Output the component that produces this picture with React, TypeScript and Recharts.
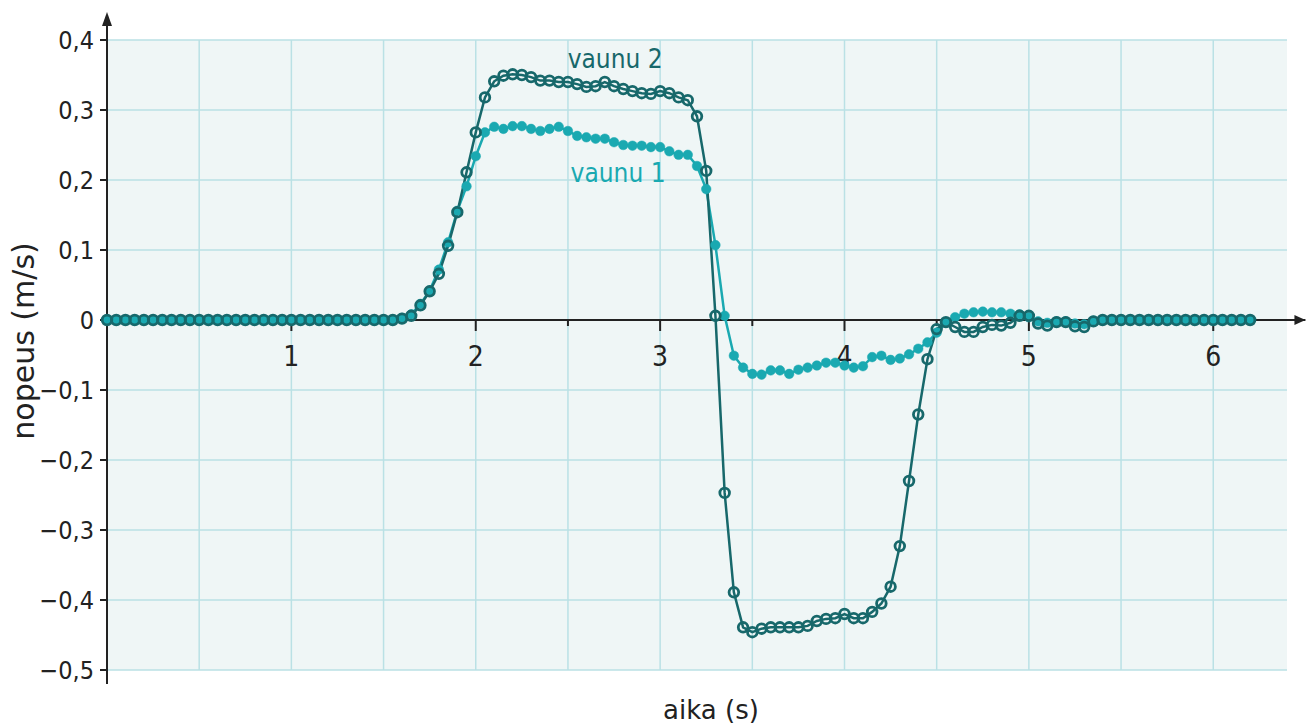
import React from 'react';
import {
  LineChart,
  Line,
  XAxis,
  YAxis,
  CartesianGrid,
  ReferenceLine,
  ReferenceDot,
} from 'recharts';

// time (s)
const times: number[] = [
  0, 0.05, 0.1, 0.15, 0.2, 0.25, 0.3, 0.35, 0.4, 0.45,
  0.5, 0.55, 0.6, 0.65, 0.7, 0.75, 0.8, 0.85, 0.9, 0.95,
  1, 1.05, 1.1, 1.15, 1.2, 1.25, 1.3, 1.35, 1.4, 1.45,
  1.5, 1.55, 1.6, 1.65, 1.7, 1.75, 1.8, 1.85, 1.9, 1.95,
  2, 2.05, 2.1, 2.15, 2.2, 2.25, 2.3, 2.35, 2.4, 2.45,
  2.5, 2.55, 2.6, 2.65, 2.7, 2.75, 2.8, 2.85, 2.9, 2.95,
  3, 3.05, 3.1, 3.15, 3.2, 3.25, 3.3, 3.35, 3.4, 3.45,
  3.5, 3.55, 3.6, 3.65, 3.7, 3.75, 3.8, 3.85, 3.9, 3.95,
  4, 4.05, 4.1, 4.15, 4.2, 4.25, 4.3, 4.35, 4.4, 4.45,
  4.5, 4.55, 4.6, 4.65, 4.7, 4.75, 4.8, 4.85, 4.9, 4.95,
  5, 5.05, 5.1, 5.15, 5.2, 5.25, 5.3, 5.35, 5.4, 5.45,
  5.5, 5.55, 5.6, 5.65, 5.7, 5.75, 5.8, 5.85, 5.9, 5.95,
  6, 6.05, 6.1, 6.15, 6.2,
];

// vaunu 1 speed (m/s)
const vaunu1: number[] = [
  0, 0, 0, 0, 0, 0, 0, 0, 0, 0,
  0, 0, 0, 0, 0, 0, 0, 0, 0, 0,
  0, 0, 0, 0, 0, 0, 0, 0, 0, 0,
  0, 0, 0.003, 0.008, 0.023, 0.042, 0.072, 0.111, 0.156, 0.191,
  0.234, 0.268, 0.276, 0.273, 0.277, 0.277, 0.273, 0.27, 0.273, 0.276,
  0.27, 0.263, 0.261, 0.259, 0.259, 0.254, 0.25, 0.249, 0.249, 0.247,
  0.247, 0.241, 0.236, 0.236, 0.22, 0.187, 0.107, 0.006, -0.051, -0.068,
  -0.077, -0.078, -0.072, -0.072, -0.077, -0.071, -0.068, -0.065, -0.061, -0.061,
  -0.065, -0.068, -0.066, -0.053, -0.051, -0.057, -0.055, -0.049, -0.041, -0.032,
  -0.018, -0.004, 0.004, 0.009, 0.011, 0.012, 0.011, 0.011, 0.009, 0.008,
  0.004, -0.002, -0.004, -0.002, -0.002, -0.005, -0.006, -0.001, 0, 0,
  0, 0, 0, 0, 0, 0, 0, 0, 0, 0,
  0, 0, 0, 0, 0,
];

// vaunu 2 speed (m/s)
const vaunu2: number[] = [
  0, 0, 0, 0, 0, 0, 0, 0, 0, 0,
  0, 0, 0, 0, 0, 0, 0, 0, 0, 0,
  0, 0, 0, 0, 0, 0, 0, 0, 0, 0,
  0, 0, 0.002, 0.006, 0.021, 0.041, 0.066, 0.106, 0.154, 0.211,
  0.268, 0.318, 0.341, 0.349, 0.351, 0.35, 0.347, 0.342, 0.342, 0.34,
  0.34, 0.337, 0.333, 0.334, 0.34, 0.334, 0.33, 0.327, 0.324, 0.323,
  0.327, 0.324, 0.318, 0.314, 0.291, 0.213, 0.006, -0.247, -0.389, -0.439,
  -0.446, -0.441, -0.439, -0.439, -0.439, -0.439, -0.437, -0.43, -0.427, -0.426,
  -0.42, -0.426, -0.426, -0.417, -0.405, -0.381, -0.323, -0.23, -0.135, -0.056,
  -0.013, -0.003, -0.01, -0.017, -0.017, -0.01, -0.007, -0.008, -0.004, 0.006,
  0.006, -0.005, -0.008, -0.003, -0.003, -0.009, -0.01, -0.002, 0, 0,
  0, 0, 0, 0, 0, 0, 0, 0, 0, 0,
  0, 0, 0, 0, 0,
];

const yTicks: number[] = [-0.5, -0.4, -0.3, -0.2, -0.1, 0, 0.1, 0.2, 0.3, 0.4];
const xGridTicks: number[] = [0.5, 1, 1.5, 2, 2.5, 3, 3.5, 4, 4.5, 5, 5.5, 6];
const xMajorTicks: number[] = [1, 2, 3, 4, 5, 6];
const xMinorTicks: number[] = [0.5, 1.5, 2.5, 3.5, 4.5, 5.5];

const seriesLabels = [
  { name: 'vaunu 2', t: 2.756, v: 0.374, color: '#17686b' },
  { name: 'vaunu 1', t: 2.772, v: 0.211, color: '#1aa9b1' },
];

const data = times.map((t, i) => ({ t, v1: vaunu1[i], v2: vaunu2[i] }));

const NARROW = "'Liberation Sans Narrow', 'DejaVu Sans Condensed', 'Roboto', sans-serif";
const REGULAR = "'DejaVu Sans', 'Open Sans', sans-serif";
const AXIS = '#222';
const DARK = '#17686b';
const CYAN = '#1aa9b1';
const GRID = '#bae1e5';

const fmt = (v: number) => {
  if (Math.abs(v) < 1e-9) return '0';
  const s = Math.abs(v).toFixed(1).replace('.', ',');
  return v < 0 ? '\u2212' + s : s;
};

export default function App() {
  return (
    <div style={{ position: 'absolute', left: 0, top: 0, width: 1307, height: 726, background: '#fff' }}>
      <LineChart
        width={1307}
        height={726}
        data={data}
        margin={{ top: 40, right: 20, bottom: 0, left: 0 }}
      >
        <CartesianGrid
          stroke={GRID}
          strokeWidth={1.5}
          fill="#eff6f6"
          fillOpacity={1}
          vertical={false}
        />
        <XAxis
          type="number"
          dataKey="t"
          domain={[0, 6.4]}
          ticks={xGridTicks}
          tick={false}
          tickLine={false}
          axisLine={false}
          height={56}
          label={(props: any) => {
            const vb = props.viewBox || {};
            return (
              <text
                x={vb.x + vb.width / 2 + 14}
                y={vb.y + 49}
                textAnchor="middle"
                fontFamily={REGULAR}
                fontSize={26}
                fill={AXIS}
              >
                aika (s)
              </text>
            );
          }}
        />
        <YAxis
          type="number"
          domain={[-0.5, 0.4]}
          ticks={yTicks}
          width={107}
          axisLine={false}
          tickLine={{ stroke: AXIS, strokeWidth: 2 }}
          tickSize={7}
          tickMargin={6}
          tickFormatter={fmt}
          tick={{ fontFamily: NARROW, fontSize: 25, fill: AXIS }}
          label={(props: any) => {
            const vb = props.viewBox || {};
            const cx = vb.x + 34;
            const cy = vb.y + vb.height / 2 - 14;
            return (
              <text
                x={cx}
                y={cy}
                transform={`rotate(-90, ${cx}, ${cy})`}
                textAnchor="middle"
                fontFamily={REGULAR}
                fontSize={30}
                fill={AXIS}
              >
                nopeus (m/s)
              </text>
            );
          }}
        />
        {xGridTicks.map((t) => (
          <ReferenceLine key={'g' + t} x={t} stroke={GRID} strokeWidth={1.5} />
        ))}
        <ReferenceLine
          segment={[{ x: 0, y: 0 }, { x: 6.5, y: 0 }]}
          stroke={AXIS}
          strokeWidth={2}
          ifOverflow="visible"
        />
        <ReferenceLine
          segment={[{ x: 0, y: -0.52 }, { x: 0, y: 0.43 }]}
          stroke={AXIS}
          strokeWidth={2}
          ifOverflow="visible"
        />
        {xMinorTicks.map((t) => (
          <ReferenceDot
            key={'mn' + t}
            x={t}
            y={0}
            r={0}
            ifOverflow="visible"
            shape={(p: any) => (
              <line x1={p.cx} x2={p.cx} y1={p.cy} y2={p.cy + 6} stroke={AXIS} strokeWidth={2} />
            )}
          />
        ))}
        {xMajorTicks.map((t) => (
          <ReferenceDot
            key={'mj' + t}
            x={t}
            y={0}
            r={0}
            ifOverflow="visible"
            shape={(p: any) => (
              <g>
                <line x1={p.cx} x2={p.cx} y1={p.cy} y2={p.cy + 11} stroke={AXIS} strokeWidth={2} />
                <text
                  x={p.cx}
                  y={p.cy + 46}
                  textAnchor="middle"
                  fontFamily={NARROW}
                  fontSize={28}
                  fill={AXIS}
                >
                  {String(t)}
                </text>
              </g>
            )}
          />
        ))}
        <ReferenceDot
          x={6.5}
          y={0}
          r={0}
          ifOverflow="visible"
          shape={(p: any) => (
            <path
              d={`M ${p.cx} ${p.cy} L ${p.cx - 11} ${p.cy - 5} L ${p.cx - 11} ${p.cy + 5} Z`}
              fill={AXIS}
            />
          )}
        />
        <ReferenceDot
          x={0}
          y={0.44}
          r={0}
          ifOverflow="visible"
          shape={(p: any) => (
            <path
              d={`M ${p.cx} ${p.cy} L ${p.cx - 5} ${p.cy + 14} L ${p.cx + 5} ${p.cy + 14} Z`}
              fill={AXIS}
            />
          )}
        />
        <Line
          type="linear"
          dataKey="v1"
          stroke={CYAN}
          strokeWidth={2.5}
          dot={{ r: 4.8, fill: CYAN, stroke: CYAN, strokeWidth: 0.5 }}
          isAnimationActive={false}
        />
        <Line
          type="linear"
          dataKey="v2"
          stroke={DARK}
          strokeWidth={2.5}
          dot={{ r: 4.8, fill: 'none', stroke: DARK, strokeWidth: 2.8 }}
          isAnimationActive={false}
        />
        {seriesLabels.map((s) => (
          <ReferenceDot
            key={s.name}
            x={s.t}
            y={s.v}
            r={0}
            ifOverflow="visible"
            shape={(p: any) => (
              <text
                x={p.cx}
                y={p.cy}
                dy="0.36em"
                textAnchor="middle"
                fontFamily={NARROW}
                fontSize={26}
                fill={s.color}
              >
                {s.name}
              </text>
            )}
          />
        ))}
      </LineChart>
    </div>
  );
}
